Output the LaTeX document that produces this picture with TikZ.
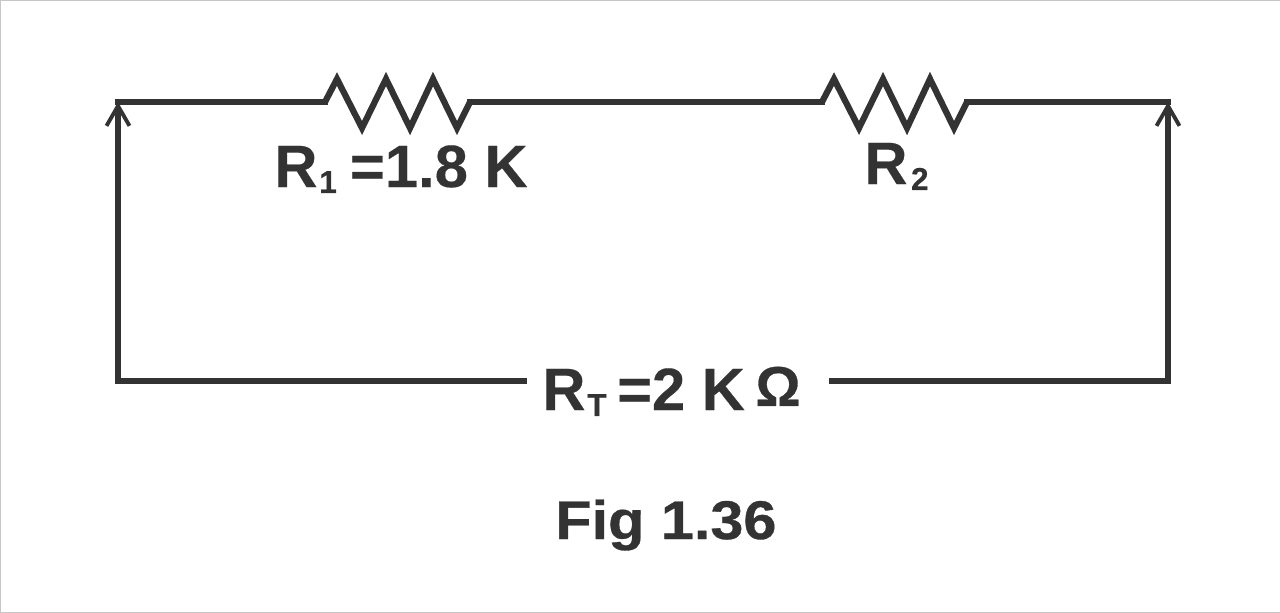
\documentclass[tikz,border=0pt]{standalone}
\usepackage{fontspec}
\setmainfont[BoldFeatures={FakeBold=0.25}]{Liberation Sans}
\newfontfamily\subfont[FakeBold=0.5]{Liberation Sans}
\newfontfamily\figfont[FakeBold=0.6]{Liberation Sans Bold}
\usetikzlibrary{arrows.meta}
\definecolor{ink}{HTML}{333333}
\newcommand{\lbl}[1]{\fontsize{#1}{#1}\selectfont}
\newcommand{\sub}[1]{\raisebox{-3.4pt}{\lbl{18}\subfont #1}}
\tikzset{x=0.02cm, y=-0.02cm,
         >={Straight Barb[length=0.4cm, width=0.46cm, line width=2.2pt]},
         wire/.style={draw=ink, line width=0.125cm, line join=miter},
         label/.style={inner sep=0pt, anchor=base west, text=ink, font=\lbl{34}\bfseries},
         pics/zigzag/.style={code={
             \draw[wire] (0,0) coordinate (-in) -- (12,-23) -- (37,26) -- (61,-23) -- (85,26)
                 -- (108,-23) -- (132,26) -- (145,0) coordinate (-out);
         }},
         }

\begin{document}
\begin{tikzpicture}
    \useasboundingbox (0,0) rectangle (1280,612);
    \draw[gray!45, line width=0.02cm] (0,0) rectangle (1280,612);

    \coordinate (tl) at (118,102);
    \coordinate (tr) at (1168,102);
    \coordinate (bl) at (118,381);
    \coordinate (br) at (1168,381);

    \pic (ra) at (325,102) {zigzag};
    \pic (rb) at (822,102) {zigzag};

    \node[label] (la) at (274,187) {R\hspace{1pt}\sub{1}\hspace{7.5pt}=1.8 K};
    \node[label] (lb) at (864,184) {R\hspace{2pt}\sub{2}};
    \node[label, inner xsep=0.3cm] (rt) at (527,410)
        {R\hspace{1pt}\sub{T}\hspace{6pt}=2 K\hspace{6pt}\raisebox{2.3pt}{\lbl{32}\subfont Ω}\kern0.26cm};
    \node[label, font=\lbl{31}\figfont, xscale=1.09] (fig) at (555,539) {Fig 1.36};

    \draw[wire, line cap=rect] (tl) -- (ra-in) (ra-out) -- (rb-in) (rb-out) -- (tr);
    \draw[wire, ->] (bl -| rt.west) -- (bl) -- (tl);
    \draw[wire, ->] (br -| rt.east) -- (br) -- (tr);
\end{tikzpicture}
\end{document}
